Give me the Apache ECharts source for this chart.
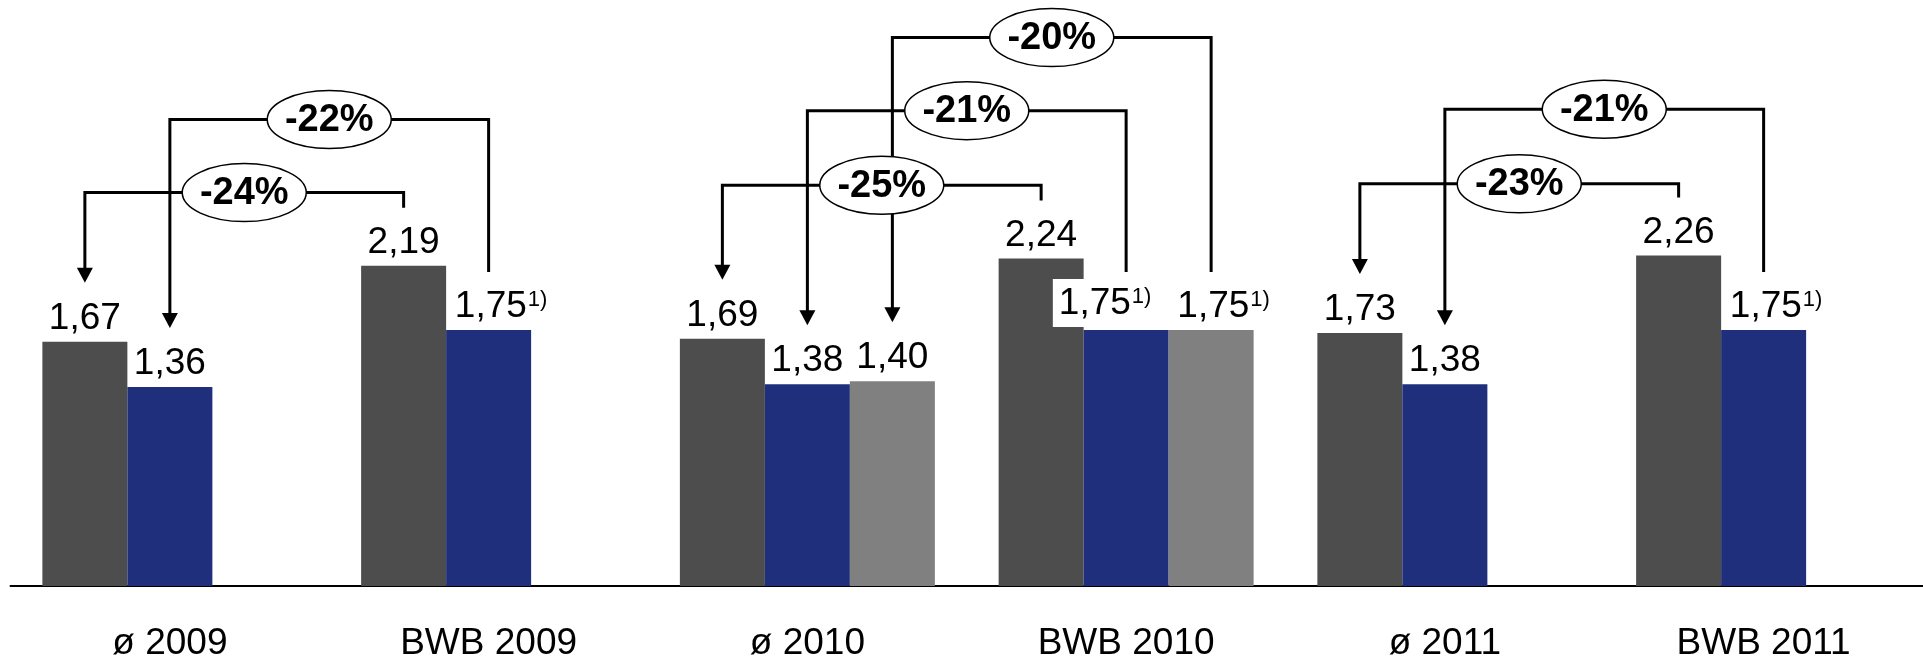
<!DOCTYPE html>
<html>
<head>
<meta charset="utf-8">
<script src="https://cdn.jsdelivr.net/npm/echarts@6/dist/echarts.min.js"></script>
<style>
  html, body { margin: 0; padding: 0; background: #fff; }
  #chart { width: 1923px; height: 662px; }
</style>
</head>
<body>
<div id="chart"></div>
<script>
// Categories and prices (EUR)
const categories = ['ø 2009', 'BWB 2009', 'ø 2010', 'BWB 2010', 'ø 2011', 'BWB 2011'];
const darkValues = [1.67, 2.19, 1.69, 2.24, 1.73, 2.26];
const blueValues = [1.36, 1.75, 1.38, 1.75, 1.38, 1.75];
const greyValues = [null, null, 1.40, 1.75, null, null];
const blueNotes = ['', '1)', '', '1)', '', '1)'];
const greyNotes = ['', '', '', '1)', '', ''];

// Comparison brackets: [series, category] of the arrow end, of the reference bar,
// and the height of the bracket in axis units
const compareFrom = [[0, 0], [1, 0], [0, 2], [1, 2], [2, 2], [0, 4], [1, 4]];
const compareTo = [[0, 1], [1, 1], [0, 3], [1, 3], [2, 3], [0, 5], [1, 5]];
const compareLevel = [2.69, 3.19, 2.74, 3.25, 3.75, 2.75, 3.26];

const FONT = '"Liberation Sans", Arial, Helvetica, sans-serif';
const COLORS = ['#4d4d4d', '#1f2f7b', '#808080'];
const allValues = [darkValues, blueValues, greyValues];
const allNotes = [['', '', '', '', '', ''], blueNotes, greyNotes];

const fmt = v => v.toFixed(2).replace('.', ',');

function buildData(seriesIdx) {
  return allValues[seriesIdx].map((v, i) => {
    if (v == null) return null;
    const item = { value: v };
    const note = allNotes[seriesIdx][i];
    if (note) {
      item.label = { padding: [0, 0, 0, 25] };
      // label that would run into its neighbour is pulled left onto a white box
      if (seriesIdx === 1 && greyValues[i] != null) {
        item.label = { padding: [5, 0, 3, 6], offset: [-24, 0], backgroundColor: '#fff' };
      }
    }
    return item;
  });
}

const chart = echarts.init(document.getElementById('chart'), null, { renderer: 'canvas' });

const labelCfg = {
  show: true,
  position: 'top',
  distance: 3,
  formatter: p => {
    const note = allNotes[p.seriesIndex][p.dataIndex];
    const v = '{v|' + fmt(p.value) + '}';
    return note ? v + '{s|' + note + '}' : v;
  },
  rich: {
    v: { fontSize: 37, fontFamily: FONT, color: '#000', lineHeight: 40 },
    s: { fontSize: 22, fontFamily: FONT, color: '#000', lineHeight: 40, verticalAlign: 'top', padding: [2, 0, 0, 1] }
  }
};

chart.setOption({
  animation: false,
  backgroundColor: '#fff',
  grid: { left: 10.5, top: 1, width: 1916, height: 585, containLabel: false },
  xAxis: {
    type: 'category',
    data: categories,
    axisTick: { show: false },
    axisLine: { show: true, lineStyle: { color: '#000', width: 2 } },
    axisLabel: { fontSize: 37, fontFamily: FONT, color: '#000', margin: 39 }
  },
  yAxis: { type: 'value', min: 0, max: 4, show: false, splitLine: { show: false } },
  series: [0, 1, 2].map(s => ({
    name: ['dunkel', 'blau', 'grau'][s],
    type: 'bar',
    barGap: '0%',
    barCategoryGap: '20%',
    itemStyle: { color: COLORS[s] },
    label: labelCfg,
    data: buildData(s)
  }))
});

// Bracket annotations drawn in pixel space derived from the bar layout
function barGeom(s, c) {
  const l = chart.getModel().getSeriesByIndex(s).getData().getItemLayout(c);
  return { cx: l.x + l.width / 2, top: Math.min(l.y, l.y + l.height) };
}

const GAP = 58, ARROW_W = 16, ARROW_H = 15;
const lines = [], shapes = [];
compareFrom.forEach((f, k) => {
  const t = compareTo[k];
  const a = barGeom(f[0], f[1]);
  const b = barGeom(t[0], t[1]);
  const y = chart.convertToPixel({ yAxisIndex: 0 }, compareLevel[k]);
  const tipY = a.top - GAP - 1;
  const pct = Math.round((allValues[f[0]][f[1]] / allValues[t[0]][t[1]] - 1) * 100);
  lines.push({
    type: 'polyline', z: 10, silent: true,
    shape: { points: [[a.cx, tipY - ARROW_H + 1], [a.cx, y], [b.cx, y], [b.cx, b.top - GAP]] },
    style: { stroke: '#000', lineWidth: 3, fill: null }
  });
  lines.push({
    type: 'polygon', z: 10, silent: true,
    shape: { points: [[a.cx - ARROW_W / 2, tipY - ARROW_H], [a.cx + ARROW_W / 2, tipY - ARROW_H], [a.cx, tipY]] },
    style: { fill: '#000' }
  });
  const cx = (a.cx + b.cx) / 2;
  shapes.push({
    type: 'ellipse', z: 20, silent: true,
    shape: { cx: cx, cy: y, rx: 62, ry: 29 },
    style: { fill: '#fff', stroke: '#000', lineWidth: 1.5 }
  });
  shapes.push({
    type: 'text', z: 21, silent: true,
    style: {
      text: pct + '%', x: cx, y: y + 1, align: 'center', verticalAlign: 'middle',
      fontSize: 38, fontWeight: 'bold', fontFamily: FONT, fill: '#000'
    }
  });
});

chart.setOption({ graphic: { elements: lines.concat(shapes) } });
</script>
</body>
</html>
